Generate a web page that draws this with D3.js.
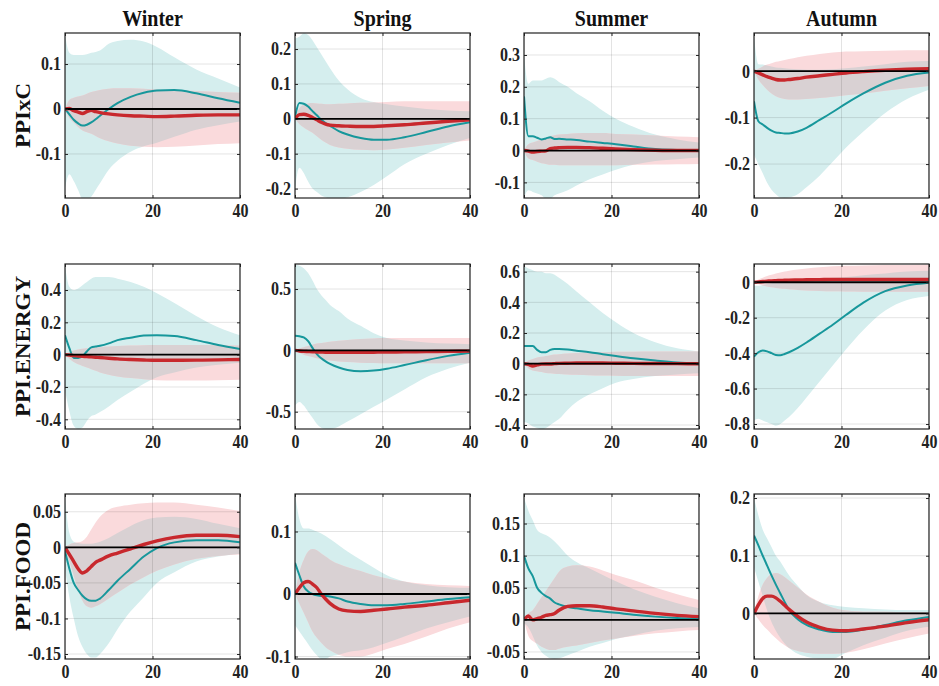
<!DOCTYPE html>
<html>
<head>
<meta charset="utf-8">
<script src="https://cdn.jsdelivr.net/npm/d3@7"></script>
<style>
  body { margin: 0; background: #fff; }
  svg { display: block; }
</style>
</head>
<body>
<svg id="chart" width="939" height="686"></svg>
<script>
// Impulse responses by season (columns) and price index (rows), horizons 0..40.
const seasons = ["Winter", "Spring", "Summer", "Autumn"];
const variables = ["PPIxC", "PPI.ENERGY", "PPI.FOOD"];
const horizons = [0, 1, 2, 3, 4, 5, 6, 7, 8, 10, 12, 15, 18, 21, 25, 30, 35, 40];
const xTicks = [0, 20, 40];

// Panel order: PPIxC (Winter..Autumn), PPI.ENERGY (Winter..Autumn), PPI.FOOD (Winter..Autumn)
const yLimits = [
  [-0.198, 0.169], [-0.227, 0.246], [-0.149, 0.369], [-0.273, 0.082],
  [-0.46, 0.561], [-0.641, 0.704], [-0.426, 0.65], [-0.828, 0.103],
  [-0.157, 0.075], [-0.104, 0.16], [-0.061, 0.196], [-0.079, 0.207]
];
const yTicks = [
  [-0.1, 0, 0.1], [-0.2, -0.1, 0, 0.1, 0.2], [-0.1, 0, 0.1, 0.2, 0.3], [-0.2, -0.1, 0],
  [-0.4, -0.2, 0, 0.2, 0.4], [-0.5, 0, 0.5], [-0.4, -0.2, 0, 0.2, 0.4, 0.6], [-0.8, -0.6, -0.4, -0.2, 0],
  [-0.15, -0.1, -0.05, 0, 0.05], [-0.1, 0, 0.1], [-0.05, 0, 0.05, 0.1, 0.15], [0, 0.1, 0.2]
];

// Teal response: median and band
const tealMid = [
  [0, -0.012, -0.024, -0.032, -0.037, -0.035, -0.03, -0.023, -0.015, 0, 0.013, 0.027, 0.036, 0.041, 0.042, 0.035, 0.024, 0.014],
  [0.005, 0.045, 0.043, 0.035, 0.022, 0.01, -0.003, -0.012, -0.02, -0.035, -0.045, -0.055, -0.06, -0.06, -0.053, -0.038, -0.022, -0.01],
  [0.17, 0.045, 0.045, 0.04, 0.035, 0.038, 0.042, 0.036, 0.037, 0.035, 0.033, 0.028, 0.024, 0.02, 0.013, 0.005, 0.002, 0],
  [-0.065, -0.108, -0.115, -0.122, -0.128, -0.132, -0.133, -0.134, -0.134, -0.13, -0.122, -0.105, -0.088, -0.07, -0.048, -0.025, -0.01, -0.003],
  [0.12, 0.04, -0.02, -0.02, -0.01, 0.02, 0.045, 0.05, 0.055, 0.07, 0.09, 0.105, 0.118, 0.12, 0.115, 0.09, 0.06, 0.035],
  [0.12, 0.115, 0.105, 0.075, 0.02, -0.03, -0.065, -0.09, -0.11, -0.14, -0.16, -0.17, -0.165, -0.15, -0.12, -0.08, -0.045, -0.02],
  [0.115, 0.115, 0.115, 0.09, 0.075, 0.075, 0.09, 0.095, 0.095, 0.092, 0.085, 0.075, 0.062, 0.05, 0.035, 0.02, 0.008, 0.003],
  [-0.42, -0.395, -0.385, -0.39, -0.4, -0.41, -0.412, -0.405, -0.395, -0.37, -0.34, -0.29, -0.24, -0.185, -0.115, -0.05, -0.018, -0.003],
  [-0.005, -0.03, -0.05, -0.06, -0.068, -0.073, -0.075, -0.075, -0.072, -0.06, -0.047, -0.03, -0.013, -0.001, 0.007, 0.01, 0.01, 0.007],
  [0.05, 0.03, 0.012, 0.004, 0, -0.002, -0.003, -0.003, -0.004, -0.007, -0.012, -0.016, -0.018, -0.018, -0.016, -0.012, -0.008, -0.005],
  [0.1, 0.08, 0.068, 0.05, 0.042, 0.037, 0.033, 0.027, 0.024, 0.02, 0.018, 0.015, 0.013, 0.011, 0.008, 0.005, 0.003, 0.002],
  [0.135, 0.118, 0.1, 0.083, 0.066, 0.05, 0.035, 0.02, 0.006, -0.01, -0.02, -0.028, -0.032, -0.032, -0.028, -0.02, -0.012, -0.006]
];
const tealHi = [
  [0.165, 0.125, 0.12, 0.12, 0.12, 0.122, 0.125, 0.127, 0.13, 0.145, 0.151, 0.154, 0.15, 0.138, 0.115, 0.088, 0.068, 0.048],
  [0.23, 0.235, 0.245, 0.24, 0.225, 0.205, 0.185, 0.165, 0.145, 0.11, 0.085, 0.06, 0.048, 0.042, 0.035, 0.028, 0.024, 0.022],
  [0.3, 0.21, 0.22, 0.22, 0.22, 0.225, 0.23, 0.225, 0.215, 0.2, 0.18, 0.155, 0.125, 0.1, 0.075, 0.05, 0.035, 0.025],
  [0.075, 0.015, 0.014, 0.012, 0.01, 0.008, 0.007, 0.006, 0.005, 0.004, 0.003, 0.003, 0.004, 0.006, 0.01, 0.015, 0.02, 0.022],
  [0.55, 0.42, 0.4, 0.41, 0.43, 0.45, 0.47, 0.48, 0.48, 0.48, 0.47, 0.45, 0.42, 0.38, 0.32, 0.24, 0.17, 0.12],
  [0.7, 0.69, 0.67, 0.63, 0.57, 0.5, 0.45, 0.41, 0.37, 0.32, 0.26, 0.2, 0.14, 0.1, 0.08, 0.065, 0.055, 0.05],
  [0.64, 0.62, 0.61, 0.6, 0.6, 0.59, 0.59, 0.58, 0.56, 0.52, 0.47, 0.4, 0.33, 0.27, 0.2, 0.14, 0.1, 0.08],
  [-0.02, -0.02, -0.015, -0.01, -0.005, 0, 0.003, 0.005, 0.007, 0.01, 0.015, 0.02, 0.025, 0.03, 0.04, 0.05, 0.06, 0.065],
  [0.07, 0.02, 0.008, 0.006, 0.005, 0.005, 0.005, 0.006, 0.008, 0.013, 0.02, 0.03, 0.038, 0.042, 0.043, 0.04, 0.033, 0.027],
  [0.16, 0.12, 0.105, 0.105, 0.103, 0.1, 0.097, 0.093, 0.088, 0.078, 0.068, 0.055, 0.042, 0.03, 0.02, 0.014, 0.011, 0.01],
  [0.19, 0.17, 0.155, 0.14, 0.135, 0.132, 0.128, 0.122, 0.115, 0.1, 0.09, 0.08, 0.07, 0.06, 0.048, 0.036, 0.026, 0.018],
  [0.2, 0.17, 0.145, 0.13, 0.115, 0.1, 0.09, 0.078, 0.066, 0.048, 0.032, 0.02, 0.014, 0.011, 0.009, 0.007, 0.006, 0.006]
];
const tealLo = [
  [-0.175, -0.145, -0.16, -0.18, -0.2, -0.2, -0.195, -0.18, -0.165, -0.135, -0.115, -0.095, -0.083, -0.075, -0.062, -0.046, -0.036, -0.028],
  [-0.2, -0.14, -0.155, -0.18, -0.2, -0.21, -0.22, -0.225, -0.23, -0.23, -0.225, -0.21, -0.19, -0.165, -0.13, -0.1, -0.075, -0.055],
  [-0.15, -0.125, -0.13, -0.135, -0.14, -0.15, -0.15, -0.14, -0.135, -0.125, -0.11, -0.09, -0.075, -0.06, -0.045, -0.033, -0.027, -0.022],
  [-0.18, -0.2, -0.22, -0.24, -0.255, -0.265, -0.272, -0.273, -0.272, -0.265, -0.25, -0.225, -0.195, -0.165, -0.13, -0.09, -0.06, -0.04],
  [-0.22, -0.35, -0.44, -0.46, -0.45, -0.41, -0.38, -0.37, -0.355, -0.32, -0.28, -0.23, -0.18, -0.14, -0.11, -0.08, -0.062, -0.05],
  [-0.45, -0.42, -0.45, -0.5, -0.55, -0.6, -0.63, -0.64, -0.64, -0.62, -0.58, -0.52, -0.46, -0.4, -0.32, -0.22, -0.15, -0.1],
  [-0.38, -0.39, -0.41, -0.42, -0.43, -0.42, -0.4, -0.38, -0.36, -0.3, -0.25, -0.2, -0.16, -0.125, -0.1, -0.08, -0.07, -0.062],
  [-0.78, -0.77, -0.78, -0.79, -0.8, -0.81, -0.8, -0.78, -0.76, -0.71, -0.65, -0.56, -0.47, -0.38, -0.27, -0.16, -0.1, -0.077],
  [-0.03, -0.07, -0.1, -0.125, -0.14, -0.15, -0.155, -0.155, -0.15, -0.135, -0.115, -0.09, -0.07, -0.05, -0.035, -0.02, -0.013, -0.009],
  [-0.05, -0.06, -0.07, -0.08, -0.09, -0.098, -0.104, -0.104, -0.1, -0.097, -0.093, -0.09, -0.085, -0.078, -0.068, -0.055, -0.045, -0.036],
  [-0.005, -0.012, -0.025, -0.04, -0.05, -0.056, -0.06, -0.061, -0.06, -0.055, -0.05, -0.042, -0.036, -0.03, -0.024, -0.017, -0.013, -0.011],
  [0.08, 0.055, 0.03, 0.005, -0.015, -0.03, -0.042, -0.052, -0.06, -0.07, -0.075, -0.078, -0.078, -0.068, -0.055, -0.042, -0.03, -0.023]
];

// Red response: median and band
const redMid = [
  [0, 0.001, -0.004, -0.007, -0.01, -0.006, -0.003, -0.006, -0.008, -0.011, -0.013, -0.015, -0.016, -0.017, -0.016, -0.014, -0.013, -0.013],
  [0, 0.012, 0.013, 0.01, 0.004, -0.003, -0.01, -0.015, -0.018, -0.02, -0.021, -0.022, -0.022, -0.02, -0.017, -0.012, -0.007, -0.003],
  [0, -0.002, -0.005, -0.003, -0.002, -0.001, 0.006, 0.008, 0.009, 0.01, 0.01, 0.009, 0.007, 0.005, 0.003, 0.001, 0, 0],
  [0, -0.004, -0.008, -0.012, -0.015, -0.018, -0.019, -0.019, -0.018, -0.016, -0.013, -0.01, -0.007, -0.004, -0.001, 0.002, 0.004, 0.005],
  [0, -0.003, -0.006, -0.008, -0.01, -0.012, -0.014, -0.016, -0.018, -0.022, -0.026, -0.03, -0.033, -0.035, -0.035, -0.034, -0.032, -0.03],
  [0, -0.005, -0.008, -0.01, -0.012, -0.013, -0.014, -0.015, -0.015, -0.016, -0.016, -0.016, -0.015, -0.014, -0.012, -0.01, -0.008, -0.006],
  [0, -0.005, -0.015, -0.008, -0.003, -0.002, -0.002, 0, 0.002, 0.003, 0.004, 0.004, 0.004, 0.003, 0.002, 0.001, 0, 0],
  [0, 0.002, 0.004, 0.006, 0.008, 0.009, 0.01, 0.011, 0.012, 0.013, 0.014, 0.015, 0.016, 0.016, 0.016, 0.016, 0.016, 0.016],
  [0, -0.01, -0.02, -0.03, -0.036, -0.033, -0.027, -0.021, -0.018, -0.012, -0.008, -0.002, 0.004, 0.009, 0.014, 0.017, 0.017, 0.015],
  [0, 0.01, 0.018, 0.02, 0.016, 0.01, 0, -0.008, -0.015, -0.024, -0.027, -0.028, -0.026, -0.024, -0.021, -0.018, -0.014, -0.01],
  [0, 0.006, 0, 0.002, 0.004, 0.007, 0.008, 0.01, 0.015, 0.021, 0.022, 0.022, 0.02, 0.017, 0.014, 0.01, 0.007, 0.005],
  [0, 0.015, 0.026, 0.03, 0.03, 0.027, 0.021, 0.014, 0.007, -0.005, -0.015, -0.024, -0.029, -0.03, -0.027, -0.022, -0.016, -0.011]
];
const redHi = [
  [0, 0.02, 0.025, 0.028, 0.03, 0.034, 0.038, 0.04, 0.042, 0.045, 0.046, 0.046, 0.045, 0.043, 0.042, 0.04, 0.038, 0.036],
  [0, 0.03, 0.04, 0.044, 0.045, 0.044, 0.043, 0.042, 0.042, 0.043, 0.044, 0.046, 0.047, 0.048, 0.05, 0.05, 0.05, 0.05],
  [0, 0.02, 0.025, 0.03, 0.035, 0.04, 0.045, 0.048, 0.05, 0.052, 0.054, 0.055, 0.055, 0.052, 0.05, 0.047, 0.044, 0.042],
  [0, 0.005, 0.01, 0.014, 0.017, 0.02, 0.022, 0.024, 0.026, 0.03, 0.033, 0.037, 0.04, 0.042, 0.043, 0.044, 0.045, 0.045],
  [0, 0.015, 0.025, 0.032, 0.036, 0.04, 0.042, 0.044, 0.046, 0.05, 0.053, 0.056, 0.058, 0.06, 0.06, 0.06, 0.058, 0.056],
  [0, 0.015, 0.025, 0.035, 0.045, 0.055, 0.06, 0.065, 0.07, 0.078, 0.085, 0.092, 0.097, 0.1, 0.1, 0.1, 0.1, 0.1],
  [0, 0.02, 0.03, 0.04, 0.045, 0.05, 0.055, 0.06, 0.062, 0.066, 0.07, 0.073, 0.075, 0.077, 0.078, 0.08, 0.08, 0.08],
  [0, 0.015, 0.025, 0.035, 0.042, 0.05, 0.055, 0.06, 0.065, 0.072, 0.078, 0.085, 0.09, 0.093, 0.095, 0.097, 0.098, 0.1],
  [0, 0.004, 0.006, 0.007, 0.009, 0.015, 0.025, 0.035, 0.043, 0.053, 0.057, 0.06, 0.062, 0.063, 0.063, 0.06, 0.056, 0.051],
  [0, 0.035, 0.055, 0.068, 0.072, 0.07, 0.065, 0.06, 0.055, 0.048, 0.043, 0.037, 0.03, 0.025, 0.02, 0.016, 0.014, 0.013],
  [0, 0.01, 0.015, 0.025, 0.035, 0.045, 0.055, 0.065, 0.075, 0.083, 0.085, 0.083, 0.077, 0.07, 0.062, 0.05, 0.04, 0.031],
  [0, 0.03, 0.05, 0.062, 0.068, 0.07, 0.068, 0.063, 0.057, 0.045, 0.033, 0.02, 0.01, 0.005, 0.003, 0.003, 0.002, 0.002]
];
const redLo = [
  [0, -0.02, -0.03, -0.04, -0.048, -0.052, -0.055, -0.06, -0.065, -0.072, -0.077, -0.082, -0.084, -0.085, -0.084, -0.081, -0.078, -0.076],
  [0, -0.015, -0.025, -0.033, -0.04, -0.05, -0.06, -0.068, -0.075, -0.082, -0.086, -0.089, -0.09, -0.088, -0.083, -0.075, -0.068, -0.062],
  [0, -0.025, -0.03, -0.035, -0.04, -0.042, -0.045, -0.045, -0.046, -0.046, -0.046, -0.046, -0.046, -0.046, -0.045, -0.044, -0.043, -0.042],
  [0, -0.018, -0.03, -0.04, -0.048, -0.054, -0.058, -0.06, -0.061, -0.061, -0.06, -0.058, -0.055, -0.052, -0.048, -0.042, -0.037, -0.032],
  [0, -0.025, -0.045, -0.06, -0.07, -0.08, -0.09, -0.1, -0.11, -0.125, -0.135, -0.145, -0.152, -0.158, -0.16, -0.16, -0.158, -0.155],
  [0, -0.02, -0.035, -0.045, -0.055, -0.065, -0.072, -0.078, -0.083, -0.09, -0.095, -0.1, -0.103, -0.105, -0.105, -0.105, -0.105, -0.105],
  [0, -0.03, -0.045, -0.05, -0.055, -0.06, -0.063, -0.066, -0.068, -0.07, -0.072, -0.075, -0.077, -0.078, -0.08, -0.08, -0.08, -0.08],
  [0, -0.01, -0.018, -0.024, -0.028, -0.032, -0.035, -0.037, -0.04, -0.043, -0.046, -0.049, -0.051, -0.052, -0.053, -0.053, -0.053, -0.053],
  [0, -0.02, -0.04, -0.06, -0.075, -0.083, -0.085, -0.083, -0.08, -0.072, -0.064, -0.052, -0.042, -0.033, -0.024, -0.016, -0.012, -0.01],
  [0, -0.015, -0.03, -0.045, -0.06, -0.07, -0.078, -0.085, -0.09, -0.097, -0.1, -0.1, -0.095, -0.088, -0.08, -0.068, -0.055, -0.045],
  [0, -0.025, -0.033, -0.037, -0.042, -0.045, -0.047, -0.047, -0.045, -0.042, -0.04, -0.036, -0.032, -0.029, -0.025, -0.021, -0.018, -0.016],
  [0, -0.01, -0.02, -0.028, -0.036, -0.043, -0.05, -0.055, -0.06, -0.065, -0.068, -0.07, -0.07, -0.068, -0.062, -0.052, -0.043, -0.035]
];

// ---- layout and style ----
const colX = [65, 295, 524, 754];
const rowY = [33, 264, 494];
const pw = 175, ph = 165;
const textStretch = 1.15;
const serif = "'Liberation Serif', 'Times New Roman', Times, serif";
const colors = {
  tealBand: "#d5eeee",
  redBand: "#fadadc",
  overlap: "#d9d1d3",
  teal: "#17979b",
  red: "#c8282d",
  grid: "rgba(0,0,0,0.11)",
  text: "#222"
};

const svg = d3.select("#chart");
const defs = svg.append("defs");

variables.forEach((varName, r) => {
  seasons.forEach((season, c) => {
    const i = r * 4 + c;
    const x0 = colX[c], y0 = rowY[r];
    const x = d3.scaleLinear().domain([0, 40]).range([x0, x0 + pw]);
    const y = d3.scaleLinear().domain(yLimits[i]).range([y0 + ph, y0]);

    const band = (lo, hi) => d3.area()
      .x((d, k) => x(horizons[k]))
      .y0((d, k) => y(lo[k]))
      .y1((d, k) => y(hi[k]))
      .curve(d3.curveMonotoneX)(horizons);
    const line = vals => d3.line()
      .x((d, k) => x(horizons[k]))
      .y((d, k) => y(vals[k]))
      .curve(d3.curveMonotoneX)(horizons);

    defs.append("clipPath").attr("id", "panel" + i)
      .append("rect").attr("x", x0).attr("y", y0).attr("width", pw).attr("height", ph);
    defs.append("clipPath").attr("id", "tealBand" + i)
      .append("path").attr("d", band(tealLo[i], tealHi[i]));

    const g = svg.append("g");
    const inner = g.append("g").attr("clip-path", `url(#panel${i})`);

    // confidence bands; the region shared by both bands is shaded grey
    inner.append("path").attr("d", band(tealLo[i], tealHi[i])).attr("fill", colors.tealBand);
    inner.append("path").attr("d", band(redLo[i], redHi[i])).attr("fill", colors.redBand);
    inner.append("g").attr("clip-path", `url(#tealBand${i})`)
      .append("path").attr("d", band(redLo[i], redHi[i])).attr("fill", colors.overlap);

    // grid
    inner.selectAll("line.gy").data(yTicks[i]).join("line")
      .attr("x1", x0).attr("x2", x0 + pw)
      .attr("y1", d => y(d)).attr("y2", d => y(d))
      .attr("stroke", colors.grid).attr("stroke-width", 1);
    inner.selectAll("line.gx").data(xTicks).join("line")
      .attr("x1", d => x(d)).attr("x2", d => x(d))
      .attr("y1", y0).attr("y2", y0 + ph)
      .attr("stroke", colors.grid).attr("stroke-width", 1);

    // responses
    inner.append("path").attr("d", line(tealMid[i]))
      .attr("fill", "none").attr("stroke", colors.teal).attr("stroke-width", 2);
    inner.append("path").attr("d", line(redMid[i]))
      .attr("fill", "none").attr("stroke", colors.red).attr("stroke-width", 3.4)
      .attr("stroke-linejoin", "round");

    // zero line
    inner.append("line")
      .attr("x1", x0).attr("x2", x0 + pw)
      .attr("y1", y(0)).attr("y2", y(0))
      .attr("stroke", "#000").attr("stroke-width", 1.8);

    // axes with inward ticks on all four sides
    const styleAxis = sel => {
      sel.select(".domain").remove();
      sel.selectAll(".tick line").attr("stroke", "#222");
      sel.selectAll(".tick text")
        .attr("font-family", serif).attr("font-weight", "bold")
        .attr("font-size", 16).attr("fill", colors.text)
        .attr("transform", `scale(1,${textStretch})`);
    };
    g.append("g").attr("transform", `translate(${x0},0)`)
      .call(d3.axisLeft(y).tickValues(yTicks[i]).tickSize(-3).tickPadding(4).tickFormat(d => String(d)))
      .call(styleAxis);
    g.append("g").attr("transform", `translate(${x0 + pw},0)`)
      .call(d3.axisRight(y).tickValues(yTicks[i]).tickSize(-3).tickFormat(""))
      .call(styleAxis);
    g.append("g").attr("transform", `translate(0,${y0 + ph})`)
      .call(d3.axisBottom(x).tickValues(xTicks).tickSize(-3).tickPadding(5).tickFormat(d => String(d)))
      .call(styleAxis);
    g.append("g").attr("transform", `translate(0,${y0})`)
      .call(d3.axisTop(x).tickValues(xTicks).tickSize(-3).tickFormat(""))
      .call(styleAxis);

    // frame
    g.append("rect").attr("x", x0).attr("y", y0).attr("width", pw).attr("height", ph)
      .attr("fill", "none").attr("stroke", "#222").attr("stroke-width", 1.2);
  });
});

// column titles
seasons.forEach((season, c) => {
  svg.append("text")
    .attr("transform", `translate(${colX[c] + pw / 2},26) scale(1,${textStretch})`)
    .attr("text-anchor", "middle")
    .attr("font-family", serif).attr("font-weight", "bold").attr("font-size", 20)
    .attr("fill", "#111")
    .text(season);
});

// row labels
variables.forEach((varName, r) => {
  svg.append("text")
    .attr("transform", `translate(30,${rowY[r] + ph / 2}) rotate(-90) scale(${textStretch},1)`)
    .attr("text-anchor", "middle")
    .attr("font-family", serif).attr("font-weight", "bold").attr("font-size", 20)
    .attr("fill", "#111")
    .text(varName);
});
</script>
</body>
</html>
